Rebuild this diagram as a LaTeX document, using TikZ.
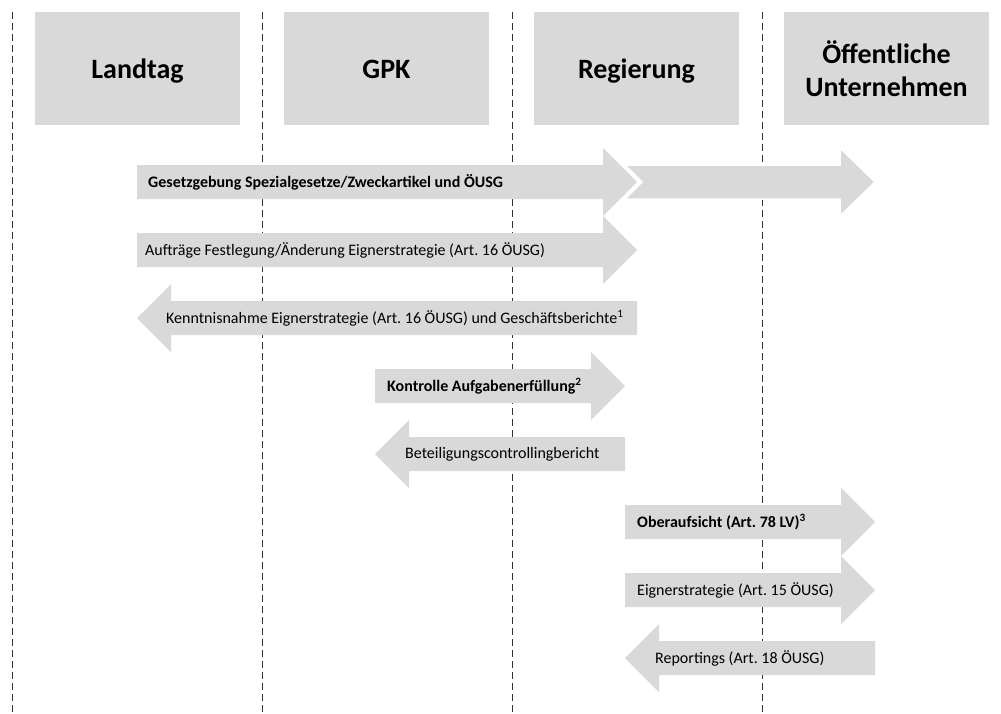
\documentclass[tikz,border=0pt]{standalone}
\usepackage{fontspec}
\setmainfont{Carlito}
\usepackage{tikz}
\definecolor{boxgrey}{HTML}{D9D9D9}
\frenchspacing
\tikzset{
  lane/.style={line width=0.8pt, dash pattern=on 7pt off 4pt, black!80},
  headbox/.style={fill=boxgrey, minimum width=205pt, minimum height=113pt,
    align=center, text height=20pt, text depth=1pt,
    font=\bfseries\fontsize{28}{33}\selectfont},
  flow/.style={fill=boxgrey},
  lbl/.style={anchor=west, inner sep=0pt, font=\fontsize{16}{18}\selectfont},
  blbl/.style={lbl, font=\bfseries\fontsize{16}{18}\selectfont}
}

\begin{document}
\begin{tikzpicture}[x=1pt,y=-1pt]
        \useasboundingbox (0,0) rectangle (1001,713);

        % Lane separators
        \draw[lane] (12,12) -- (12,713);
        \draw[lane] (262,12) -- (262,713);
        \draw[lane] (512,12) -- (512,713);
        \draw[lane] (762,12) -- (762,713);

        % Actors
        \node[headbox] (landtag) at (137.5,68.5) {Landtag};
        \node[headbox] (gpk) at (386.5,68.5) {GPK};
        \node[headbox] (regierung) at (636.5,68.5) {Regierung};
        \node[headbox, text height=, text depth=] (unternehmen) at (886.5,68.5) {Öffentliche\\Unternehmen};

        % Gesetzgebung (two parts)
        \fill[flow] (137,165) -- (603,165) -- (603,148) -- (637,182) -- (603,216) -- (603,199) -- (137,199) -- cycle;
        \filldraw[flow, draw=white, line width=1.5pt] (625,165) -- (840,165) -- (840,148) -- (875,182) -- (840,216) -- (840,199) -- (625,199) -- (642,182) -- cycle;
        \node[blbl] (gesetz) at (148,182) {Gesetzgebung Spezialgesetze/Zweckartikel und ÖUSG};

        % Auftraege
        \fill[flow] (137,233) -- (603,233) -- (603,216) -- (637,250) -- (603,284) -- (603,267) -- (137,267) -- cycle;
        \node[lbl] (auftraege) at (145,250) {Aufträge Festlegung/Änderung Eignerstrategie (Art. 16 ÖUSG)};

        % Kenntnisnahme (back to Landtag)
        \fill[flow] (137,318) -- (171,284) -- (171,301) -- (637,301) -- (637,335) -- (171,335) -- (171,352) -- cycle;
        \node[lbl] (kenntnis) at (166,318) {Kenntnisnahme Eignerstrategie (Art. 16 ÖUSG) und Geschäftsberichte\textsuperscript{1}};

        % Kontrolle
        \fill[flow] (375,369) -- (591,369) -- (591,352) -- (625,386) -- (591,420) -- (591,403) -- (375,403) -- cycle;
        \node[blbl] (kontrolle) at (387,386) {Kontrolle Aufgabenerfüllung\textsuperscript{2}};

        % Beteiligungscontrolling (back to GPK)
        \fill[flow] (375,454) -- (409,420) -- (409,437) -- (625,437) -- (625,471) -- (409,471) -- (409,488) -- cycle;
        \node[lbl] (controlling) at (405,454) {Beteiligungscontrollingbericht};

        % Oberaufsicht
        \fill[flow] (625,505) -- (841,505) -- (841,488) -- (875,522) -- (841,556) -- (841,539) -- (625,539) -- cycle;
        \node[blbl] (aufsicht) at (637,522) {Oberaufsicht (Art. 78 LV)\textsuperscript{3}};

        % Eignerstrategie
        \fill[flow] (625,573) -- (841,573) -- (841,556) -- (875,590) -- (841,624) -- (841,607) -- (625,607) -- cycle;
        \node[lbl] (strategie) at (637,590) {Eignerstrategie (Art. 15 ÖUSG)};

        % Reportings (back to Regierung)
        \fill[flow] (625,658) -- (659,624) -- (659,641) -- (875,641) -- (875,675) -- (659,675) -- (659,692) -- cycle;
        \node[lbl] (reporting) at (655,658) {Reportings (Art. 18 ÖUSG)};
    \end{tikzpicture}
\end{document}
